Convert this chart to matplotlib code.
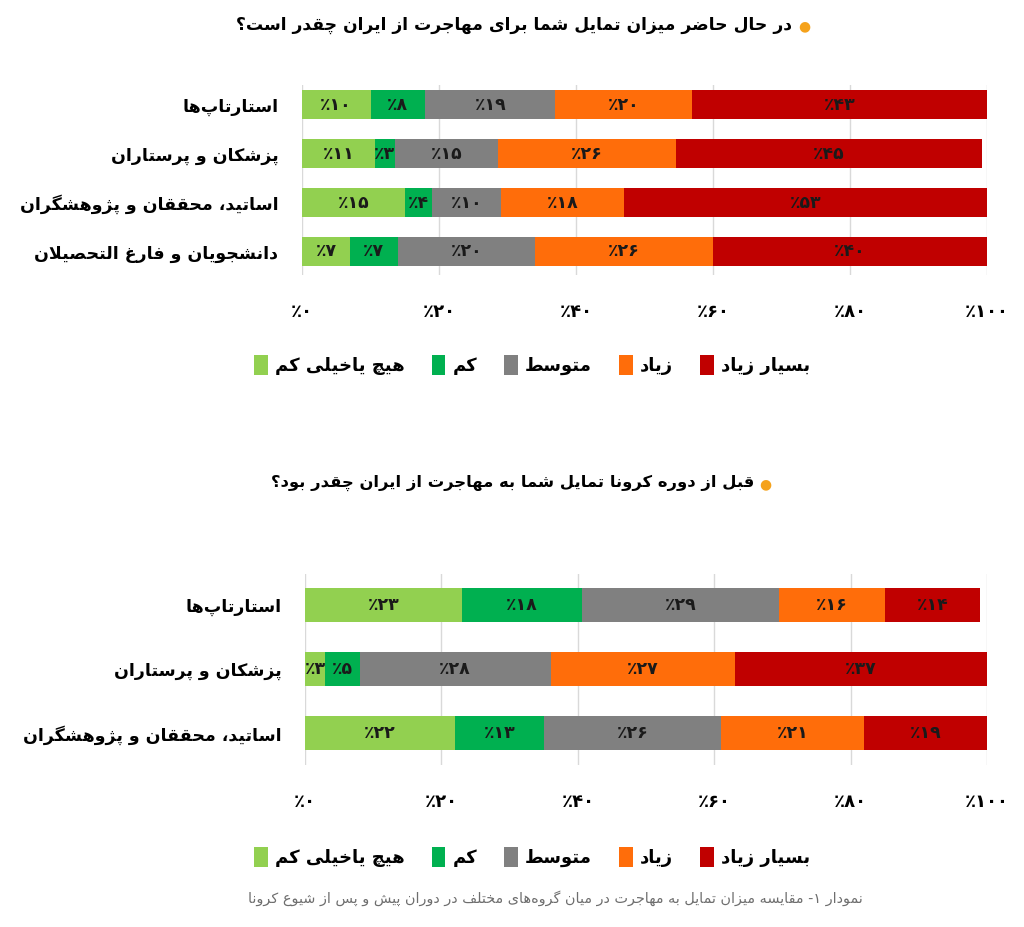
import re
import matplotlib
matplotlib.use("Agg")
import matplotlib.pyplot as plt

# ---------------- data ----------------
series = ["هیچ یاخیلی کم", "کم", "متوسط", "زیاد", "بسیار زیاد"]
colors = ["#92d050", "#00b050", "#808080", "#ff6d0a", "#c00000"]

title_now = "در حال حاضر میزان تمایل شما برای مهاجرت از ایران چقدر است؟"
cats_now = ["استارتاپ‌ها", "پزشکان و پرستاران", "اساتید، محققان و پژوهشگران",
            "دانشجویان و فارغ التحصیلان"]
now_very_low = [10, 10.6, 15, 7]
now_low = [8, 3, 4, 7]
now_mid = [19, 15, 10, 20]
now_high = [20, 26, 18, 26]
now_very_high = [43, 44.7, 53, 40]

title_before = "قبل از دوره کرونا تمایل شما به مهاجرت از ایران چقدر بود؟"
cats_before = ["استارتاپ‌ها", "پزشکان و پرستاران", "اساتید، محققان و پژوهشگران"]
before_very_low = [23, 3, 22]
before_low = [17.6, 5, 13]
before_mid = [28.9, 28, 26]
before_high = [15.6, 27, 21]
before_very_high = [13.9, 37, 19]

xticks = [0, 20, 40, 60, 80, 100]
caption = "نمودار ۱- مقایسه میزان تمایل به مهاجرت در میان گروه‌های مختلف در دوران پیش و پس از شیوع کرونا"

# ---------------- simple Persian shaping + RTL ----------------
F = {
    '\u0627': ('\uFE8D', '\uFE8E', None, None),
    '\u0622': ('\uFE81', '\uFE82', None, None),
    '\u0623': ('\uFE83', '\uFE84', None, None),
    '\u062F': ('\uFEA9', '\uFEAA', None, None),
    '\u0630': ('\uFEAB', '\uFEAC', None, None),
    '\u0631': ('\uFEAD', '\uFEAE', None, None),
    '\u0632': ('\uFEAF', '\uFEB0', None, None),
    '\u0698': ('\uFB8A', '\uFB8B', None, None),
    '\u0648': ('\uFEED', '\uFEEE', None, None),
    '\u0629': ('\uFE93', '\uFE94', None, None),
    '\u0628': ('\uFE8F', '\uFE90', '\uFE91', '\uFE92'),
    '\u062A': ('\uFE95', '\uFE96', '\uFE97', '\uFE98'),
    '\u062B': ('\uFE99', '\uFE9A', '\uFE9B', '\uFE9C'),
    '\u062C': ('\uFE9D', '\uFE9E', '\uFE9F', '\uFEA0'),
    '\u062D': ('\uFEA1', '\uFEA2', '\uFEA3', '\uFEA4'),
    '\u062E': ('\uFEA5', '\uFEA6', '\uFEA7', '\uFEA8'),
    '\u0633': ('\uFEB1', '\uFEB2', '\uFEB3', '\uFEB4'),
    '\u0634': ('\uFEB5', '\uFEB6', '\uFEB7', '\uFEB8'),
    '\u0635': ('\uFEB9', '\uFEBA', '\uFEBB', '\uFEBC'),
    '\u0636': ('\uFEBD', '\uFEBE', '\uFEBF', '\uFEC0'),
    '\u0637': ('\uFEC1', '\uFEC2', '\uFEC3', '\uFEC4'),
    '\u0638': ('\uFEC5', '\uFEC6', '\uFEC7', '\uFEC8'),
    '\u0639': ('\uFEC9', '\uFECA', '\uFECB', '\uFECC'),
    '\u063A': ('\uFECD', '\uFECE', '\uFECF', '\uFED0'),
    '\u0641': ('\uFED1', '\uFED2', '\uFED3', '\uFED4'),
    '\u0642': ('\uFED5', '\uFED6', '\uFED7', '\uFED8'),
    '\u0643': ('\uFED9', '\uFEDA', '\uFEDB', '\uFEDC'),
    '\u06A9': ('\uFB8E', '\uFB8F', '\uFB90', '\uFB91'),
    '\u06AF': ('\uFB92', '\uFB93', '\uFB94', '\uFB95'),
    '\u0644': ('\uFEDD', '\uFEDE', '\uFEDF', '\uFEE0'),
    '\u0645': ('\uFEE1', '\uFEE2', '\uFEE3', '\uFEE4'),
    '\u0646': ('\uFEE5', '\uFEE6', '\uFEE7', '\uFEE8'),
    '\u0647': ('\uFEE9', '\uFEEA', '\uFEEB', '\uFEEC'),
    '\u06CC': ('\uFBFC', '\uFBFD', '\uFBFE', '\uFBFF'),
    '\u064A': ('\uFEF1', '\uFEF2', '\uFEF3', '\uFEF4'),
    '\u067E': ('\uFB56', '\uFB57', '\uFB58', '\uFB59'),
    '\u0686': ('\uFB7A', '\uFB7B', '\uFB7C', '\uFB7D'),
    '\u0626': ('\uFE89', '\uFE8A', '\uFE8B', '\uFE8C'),
}
LAM_ALEF = {'\u0627': ('\uFEFB', '\uFEFC'), '\u0622': ('\uFEF5', '\uFEF6'),
            '\u0623': ('\uFEF7', '\uFEF8')}


def dual(c):
    return c in F and F[c][2] is not None


def shape(text):
    ch = list(text)
    out = []
    i = 0
    n = len(ch)
    while i < n:
        c = ch[i]
        if c == '\u200c':
            i += 1
            continue
        if c not in F:
            out.append(c)
            i += 1
            continue
        prev = ch[i - 1] if i > 0 else None
        nxt = ch[i + 1] if i + 1 < n else None
        jp = prev is not None and dual(prev)
        if c == '\u0644' and nxt in LAM_ALEF:
            out.append(LAM_ALEF[nxt][1 if jp else 0])
            i += 2
            continue
        jn = dual(c) and nxt is not None and nxt in F
        iso, fin, ini, med = F[c]
        if jp and jn:
            out.append(med)
        elif jp:
            out.append(fin)
        elif jn:
            out.append(ini)
        else:
            out.append(iso)
        i += 1
    return ''.join(out)


def rtl(text):
    s = shape(text)[::-1]
    return re.sub(r'[0-9\u06F0-\u06F9]+', lambda m: m.group(0)[::-1], s)


FA = str.maketrans('0123456789', '۰۱۲۳۴۵۶۷۸۹')


def pct(v):
    return '٪' + str(int(round(v))).translate(FA)


# ---------------- figure ----------------
plt.rcParams['font.family'] = ['DejaVu Sans']
plt.rcParams['font.weight'] = 'bold'
W, H = 1024, 927
fig = plt.figure(figsize=(W / 100, H / 100), dpi=100)
fig.patch.set_facecolor('white')


def rect(l, r, t, b):
    return [l / W, 1 - b / H, (r - l) / W, (b - t) / H]


def draw_panel(ax, cats, data, ylim, height):
    y = list(range(len(cats)))
    left = [0] * len(cats)
    for vals, col, name in zip(data, colors, series):
        cont = ax.barh(y, vals, left=left, height=height, color=col,
                       label=rtl(name), zorder=2)
        ax.bar_label(cont, labels=[pct(v) for v in vals], label_type='center',
                     fontsize=12.5, fontweight='bold', color='#1a1a1a')
        left = [a + b for a, b in zip(left, vals)]
    ax.set_xlim(0, 100)
    ax.set_ylim(*ylim)
    ax.set_yticks(y)
    ax.set_yticklabels([rtl(c) for c in cats], fontsize=12.5, fontweight='bold')
    ax.set_xticks(xticks)
    ax.set_xticklabels([pct(v) for v in xticks], fontsize=13, fontweight='bold')
    ax.tick_params(axis='both', length=0)
    ax.tick_params(axis='y', pad=17)
    ax.tick_params(axis='x', pad=20)
    ax.grid(axis='x', color='#d9d9d9', lw=1, zorder=0)
    ax.set_axisbelow(True)
    for s in ax.spines.values():
        s.set_visible(False)
    ax.patch.set_alpha(0)


ax1 = fig.add_axes(rect(302, 987, 85, 275))
draw_panel(ax1, cats_now,
           [now_very_low, now_low, now_mid, now_high, now_very_high],
           (3.48, -0.4), 0.6)

ax2 = fig.add_axes(rect(305, 987, 574, 765))
draw_panel(ax2, cats_before,
           [before_very_low, before_low, before_mid, before_high, before_very_high],
           (2.5, -0.48), 0.53)

# titles with bullets
fig.text(792 / W, 1 - 25 / H, rtl(title_now), fontsize=12.3, fontweight='bold',
         ha='right', va='center')
fig.text(804 / W, 1 - 26 / H, '●', fontsize=10, color='#f5a21b', ha='center', va='center')
fig.text(754 / W, 1 - 483 / H, rtl(title_before), fontsize=11.8, fontweight='bold',
         ha='right', va='center')
fig.text(765 / W, 1 - 484 / H, '●', fontsize=10, color='#f5a21b', ha='center', va='center')

# legends
for ax, ypx in ((ax1, 365), (ax2, 857)):
    handles, labels = ax.get_legend_handles_labels()
    fig.legend(handles, labels, loc='center', bbox_to_anchor=(532 / W, 1 - ypx / H),
               ncol=5, frameon=False, handlelength=0.75, handleheight=1.3,
               handletextpad=0.4, columnspacing=1.5,
               prop={'weight': 'bold', 'size': 13})

fig.text(555 / W, 1 - 898 / H, rtl(caption), fontsize=10.4, fontweight='normal',
         color='#6e6e6e', ha='center', va='center')

fig.savefig('out.png', dpi=100, facecolor='white')
